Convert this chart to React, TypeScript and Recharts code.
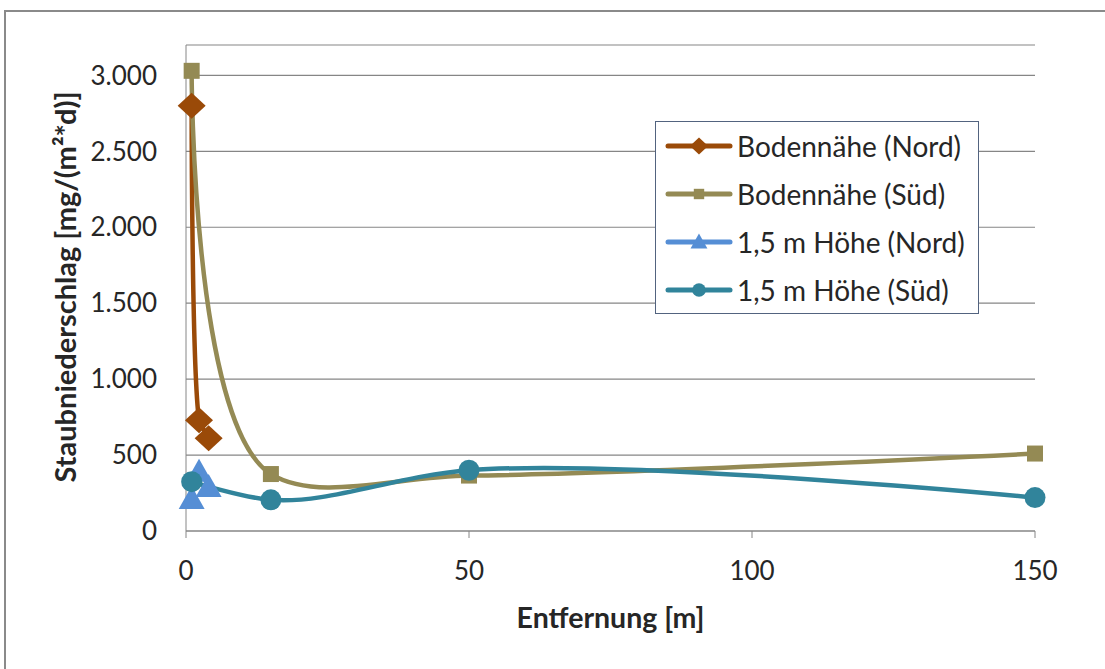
import React from 'react';
import { CartesianGrid, Line, LineChart, XAxis, YAxis } from 'recharts';

const X_NORD = [1, 2.3, 4];
const X_SUED = [1, 15, 50, 150];

const BODEN_NORD = [2800, 730, 610];
const BODEN_SUED = [3030, 375, 365, 510];
const HOEHE_NORD = [210, 390, 290];
const HOEHE_SUED = [325, 205, 400, 220];

const X_TICKS = [0, 50, 100, 150];
const Y_TICKS = [0, 500, 1000, 1500, 2000, 2500, 3000];

const FONT = 'Lato, "Open Sans", sans-serif';
const AXIS_GRAY = '#868686';
const TEXT = '#262626';

type Shape = 'diamond' | 'square' | 'triangle' | 'circle';

const toPoints = (xs: number[], ys: number[]) => xs.map((x, i) => ({ x, y: ys[i] }));

const SERIES: { name: string; color: string; shape: Shape; data: { x: number; y: number }[] }[] = [
  { name: 'Bodennähe (Nord)', color: '#9a4a08', shape: 'diamond', data: toPoints(X_NORD, BODEN_NORD) },
  { name: 'Bodennähe (Süd)', color: '#948a54', shape: 'square', data: toPoints(X_SUED, BODEN_SUED) },
  { name: '1,5 m Höhe (Nord)', color: '#558ed5', shape: 'triangle', data: toPoints(X_NORD, HOEHE_NORD) },
  { name: '1,5 m Höhe (Süd)', color: '#31849b', shape: 'circle', data: toPoints(X_SUED, HOEHE_SUED) },
];

// catmull-rom (alpha 0.75) with the control points kept inside each segment's x range,
// so the curve never runs backwards - roughly what Excel's "smoothed line" looks like
const ALPHA = 0.75;

class SmoothCurve {
  _context: any;
  _line = NaN;
  _point = 0;
  _x0 = NaN; _x1 = NaN; _x2 = NaN;
  _y0 = NaN; _y1 = NaN; _y2 = NaN;
  _l01_a = 0; _l12_a = 0; _l23_a = 0;
  _l01_2a = 0; _l12_2a = 0; _l23_2a = 0;

  constructor(context: any) {
    this._context = context;
  }
  areaStart() { this._line = 0; }
  areaEnd() { this._line = NaN; }
  lineStart() {
    this._x0 = this._x1 = this._x2 = this._y0 = this._y1 = this._y2 = NaN;
    this._l01_a = this._l12_a = this._l23_a = this._l01_2a = this._l12_2a = this._l23_2a = this._point = 0;
  }
  lineEnd() {
    if (this._point === 2) this._context.lineTo(this._x2, this._y2);
    else if (this._point === 3) this.point(this._x2, this._y2);
    if (this._line || (this._line !== 0 && this._point === 1)) this._context.closePath();
    this._line = 1 - this._line;
  }
  segment(x: number, y: number) {
    let x1 = this._x1, y1 = this._y1, x2 = this._x2, y2 = this._y2;
    if (this._l01_a > 1e-12) {
      const a = 2 * this._l01_2a + 3 * this._l01_a * this._l12_a + this._l12_2a;
      const n = 3 * this._l01_a * (this._l01_a + this._l12_a);
      x1 = (x1 * a - this._x0 * this._l12_2a + this._x2 * this._l01_2a) / n;
      y1 = (y1 * a - this._y0 * this._l12_2a + this._y2 * this._l01_2a) / n;
    }
    if (this._l23_a > 1e-12) {
      const b = 2 * this._l23_2a + 3 * this._l23_a * this._l12_a + this._l12_2a;
      const m = 3 * this._l23_a * (this._l23_a + this._l12_a);
      x2 = (x2 * b + this._x1 * this._l23_2a - x * this._l12_2a) / m;
      y2 = (y2 * b + this._y1 * this._l23_2a - y * this._l12_2a) / m;
    }
    const lo = Math.min(this._x1, this._x2);
    const hi = Math.max(this._x1, this._x2);
    x1 = Math.min(hi, Math.max(lo, x1));
    x2 = Math.min(hi, Math.max(lo, x2));
    this._context.bezierCurveTo(x1, y1, x2, y2, this._x2, this._y2);
  }
  point(x: number, y: number) {
    x = +x;
    y = +y;
    if (this._point) {
      const x23 = this._x2 - x;
      const y23 = this._y2 - y;
      this._l23_2a = Math.pow(x23 * x23 + y23 * y23, ALPHA);
      this._l23_a = Math.sqrt(this._l23_2a);
    }
    if (this._point === 0) {
      this._point = 1;
      if (this._line) this._context.lineTo(x, y);
      else this._context.moveTo(x, y);
    } else if (this._point === 1) {
      this._point = 2;
    } else {
      this._point = 3;
      this.segment(x, y);
    }
    this._l01_a = this._l12_a; this._l12_a = this._l23_a;
    this._l01_2a = this._l12_2a; this._l12_2a = this._l23_2a;
    this._x0 = this._x1; this._x1 = this._x2; this._x2 = x;
    this._y0 = this._y1; this._y1 = this._y2; this._y2 = y;
  }
}

const smoothCurve = (context: any) => new SmoothCurve(context);

function Marker({ shape, color, cx, cy, scale = 1 }: { shape: Shape; color: string; cx: number; cy: number; scale?: number }) {
  const k = scale;
  if (shape === 'diamond') {
    return (
      <polygon
        points={`${cx},${cy - 13 * k} ${cx + 14 * k},${cy} ${cx},${cy + 13 * k} ${cx - 14 * k},${cy}`}
        fill={color}
      />
    );
  }
  if (shape === 'square') {
    return <rect x={cx - 8 * k} y={cy - 8 * k} width={16 * k} height={16 * k} fill={color} />;
  }
  if (shape === 'triangle') {
    return (
      <polygon
        points={`${cx},${cy - 13 * k} ${cx + 13 * k},${cy + 10 * k} ${cx - 13 * k},${cy + 10 * k}`}
        fill={color}
      />
    );
  }
  return <circle cx={cx} cy={cy} r={10.5 * k} fill={color} />;
}

const formatThousands = (value: number) => value.toLocaleString('de-DE');

function YTitle({ viewBox }: { viewBox?: { x: number; y: number; width: number; height: number } }) {
  if (!viewBox) return null;
  const cx = viewBox.x + 64;
  const cy = viewBox.y + viewBox.height / 2 - 1;
  return (
    <text
      x={cx}
      y={cy}
      transform={`rotate(-90 ${cx} ${cy})`}
      textAnchor="middle"
      dominantBaseline="central"
      fill={TEXT}
      fontFamily={FONT}
      fontWeight="bold"
      fontSize={29}
    >
      Staubniederschlag [mg/(m²*d)]
    </text>
  );
}

function XTitle({ viewBox }: { viewBox?: { x: number; y: number; width: number; height: number } }) {
  if (!viewBox) return null;
  return (
    <text
      x={viewBox.x + viewBox.width / 2}
      y={viewBox.y + 86}
      textAnchor="middle"
      dominantBaseline="central"
      fill={TEXT}
      fontFamily={FONT}
      fontWeight="bold"
      fontSize={28.5}
    >
      Entfernung [m]
    </text>
  );
}

function LegendBox() {
  return (
    <div
      style={{
        position: 'absolute',
        left: 655,
        top: 121,
        width: 324,
        height: 193,
        border: '1.5px solid #52637f',
        background: '#fff',
        boxSizing: 'border-box',
      }}
    >
      {SERIES.map((s) => (
        <div key={s.name} style={{ display: 'flex', alignItems: 'center', height: 48 }}>
          <svg width={81} height={30} style={{ flex: 'none' }}>
            <line x1={12} y1={15} x2={74} y2={15} stroke={s.color} strokeWidth={5} strokeLinecap="round" />
            <Marker shape={s.shape} color={s.color} cx={43} cy={15} scale={0.65} />
          </svg>
          <span style={{ fontFamily: FONT, fontSize: 28, color: TEXT, whiteSpace: 'nowrap' }}>{s.name}</span>
        </div>
      ))}
    </div>
  );
}

export default function App() {
  return (
    <div style={{ position: 'absolute', left: 0, top: 0, width: 1105, height: 669, background: '#fff', overflow: 'hidden' }}>
      <div
        style={{
          position: 'absolute',
          left: 4,
          top: 10,
          width: 1110,
          height: 670,
          borderTop: '2.5px solid #8a8a8a',
          borderLeft: '2.5px solid #8a8a8a',
        }}
      />
      <LineChart width={1105} height={669} margin={{ top: 45, right: 70, left: 0, bottom: 78 }}>
        <CartesianGrid stroke={AXIS_GRAY} strokeWidth={1.2} vertical={false} />
        <XAxis
          type="number"
          dataKey="x"
          domain={[0, 150]}
          ticks={X_TICKS}
          height={60}
          stroke={AXIS_GRAY}
          tickSize={7}
          tickMargin={24}
          tick={{ fill: TEXT, fontSize: 26, fontFamily: FONT }}
          label={<XTitle />}
        />
        <YAxis
          type="number"
          dataKey="y"
          domain={[0, 3200]}
          ticks={Y_TICKS}
          width={186}
          stroke={AXIS_GRAY}
          tickLine={false}
          tickSize={0}
          tickMargin={29}
          tickFormatter={formatThousands}
          tick={{ fill: TEXT, fontSize: 26, fontFamily: FONT }}
          label={<YTitle />}
        />
        {SERIES.map((s) => (
          <Line
            key={s.name}
            data={s.data}
            dataKey="y"
            name={s.name}
            type={smoothCurve as any}
            stroke={s.color}
            strokeWidth={4.5}
            dot={(props: any) => (
              <Marker key={`${s.name}-${props.index}`} shape={s.shape} color={s.color} cx={props.cx} cy={props.cy} />
            )}
            activeDot={false}
            isAnimationActive={false}
          />
        ))}
      </LineChart>
      <LegendBox />
    </div>
  );
}
